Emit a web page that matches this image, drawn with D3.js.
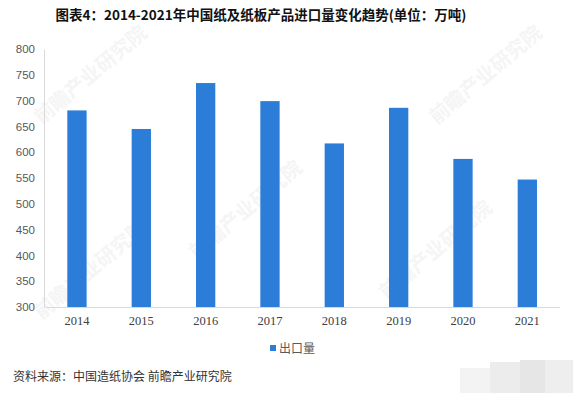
<!DOCTYPE html>
<html><head><meta charset="utf-8">
<script src="https://cdn.jsdelivr.net/npm/d3@7"></script>
<style>body{margin:0;background:#fff}svg{display:block}</style>
</head><body>
<svg id="c" width="573" height="393"></svg>
<script>
const title = "图表4：2014-2021年中国纸及纸板产品进口量变化趋势(单位：万吨)";
const years = ["2014","2015","2016","2017","2018","2019","2020","2021"];
const values = [681, 645, 734, 699, 617, 686, 587, 547];
const yTicks = [300,350,400,450,500,550,600,650,700,750,800];
const seriesName = "出口量";
const source = "资料来源：中国造纸协会 前瞻产业研究院";

const svg = d3.select("#c");
const W = 573, H = 393;
svg.append("rect").attr("width", W).attr("height", H).attr("fill", "#fff");

// faint watermarks
const wm = [[95,80],[490,80],[250,215],[95,275],[440,255]];
wm.forEach(([x,y]) => {
  svg.append("text").attr("transform", `translate(${x},${y}) rotate(-40)`)
    .attr("text-anchor","middle").attr("font-family","Noto Sans CJK SC")
    .attr("font-size",20).attr("font-weight","bold").attr("fill","#f5f5f5")
    .text("前瞻产业研究院");
});

const x = d3.scaleBand().domain(years).range([44.8, 559.5]).paddingInner(0.7).paddingOuter(0.35);
const y = d3.scaleLinear().domain([300, 800]).range([307, 49]);

svg.append("text").attr("x", 261).attr("y", 20).attr("text-anchor", "middle")
  .attr("font-family", "Noto Sans CJK SC").attr("font-weight", "bold")
  .attr("font-size", 13.5).attr("fill", "#111").text(title);

// y axis
const ya = svg.append("g").attr("transform", "translate(44,0)")
  .call(d3.axisLeft(y).tickValues(yTicks).tickSize(0).tickPadding(9));
ya.select(".domain").attr("stroke", "#d9d9d9");
ya.selectAll("text").attr("font-family", "Liberation Sans").attr("font-size", 11.5).attr("fill", "#595959");

// x axis
const xa = svg.append("g").attr("transform", "translate(0,307)")
  .call(d3.axisBottom(x).tickSize(0).tickPadding(9));
xa.select(".domain").attr("stroke", "#d9d9d9");
xa.selectAll("text").attr("font-family", "Liberation Serif").attr("font-size", 12.5).attr("fill", "#404040");

svg.append("g").selectAll("rect").data(values).join("rect")
  .attr("x", (d,i) => x(years[i])).attr("width", x.bandwidth())
  .attr("y", d => y(d)).attr("height", d => y(300) - y(d))
  .attr("fill", "#2b7dd8");

// legend
svg.append("rect").attr("x", 270).attr("y", 345).attr("width", 6).attr("height", 6).attr("fill", "#2b7dd8");
svg.append("text").attr("x", 279).attr("y", 352.5).attr("font-family", "Noto Sans CJK SC")
  .attr("font-size", 12).attr("fill", "#595959").text(seriesName);

svg.append("text").attr("x", 13).attr("y", 381).attr("font-family", "Noto Sans CJK SC")
  .attr("font-size", 12).attr("fill", "#333").text(source);

// bottom-right mosaic
const blocks = [[460,368,30,25,"#f3f3f3"],[490,362,30,31,"#ececec"],[520,360,25,33,"#e6e6e6"],[545,360,28,33,"#eeeeee"]];
blocks.forEach(b => svg.append("rect").attr("x",b[0]).attr("y",b[1]).attr("width",b[2]).attr("height",b[3]).attr("fill",b[4]));
</script>
</body></html>
